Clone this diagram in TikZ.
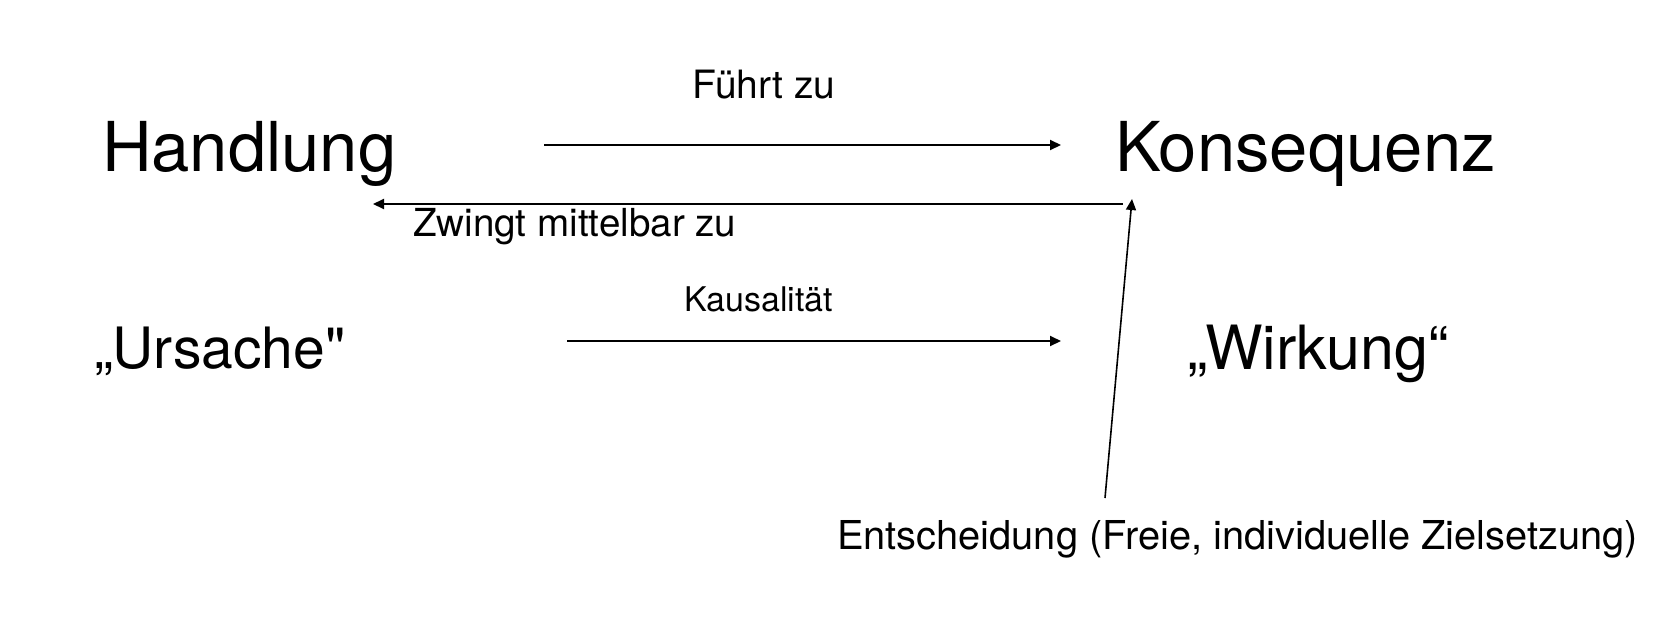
\documentclass[tikz,border=0pt]{standalone}
\usepackage{fontspec}
\setmainfont{TeX Gyre Heros}[Ligatures=TeXOff]
\usetikzlibrary{arrows.meta}
\tikzset{
  lbl/.style={anchor=base west, inner sep=0pt, outer sep=0pt, text=black},
  conn/.style={line width=1pt, -{Triangle[length=5.5pt,width=5pt]}},
}
\newcommand{\fs}[1]{\fontsize{#1}{#1}\selectfont}
\begin{document}
\begin{tikzpicture}[x=0.5pt,y=-0.5pt]
\useasboundingbox[fill=white] (0,0) rectangle (1672,632);
% main terms
\node[lbl] (hand) at (102,171) {\fs{34.4pt}Handlung};
\node[lbl] (kons) at (1115,171) {\fs{34.4pt}Konsequenz};
\node[lbl] (urs) at (94,368) {\fs{28.5pt}„Ursache"};
\node[lbl] (wirk) at (1187,369) {\fs{30.5pt}„Wirkung“};
% labels
\node[lbl] (fuehrt) at (692,98) {\fs{19.5pt}Führt zu};
\node[lbl] (zwingt) at (413,236) {\fs{19.3pt}Zwingt mittelbar zu};
\node[lbl] (kaus) at (684,311) {\fs{17pt}Kausalität};
\node[lbl] (ent) at (837,549) {\fs{19.9pt}Entscheidung (Freie, individuelle Zielsetzung)};
% connector ends
\coordinate (a1s) at (544,145);
\coordinate (a1e) at (1061,145);
\coordinate (a2s) at (1123,204);
\coordinate (a2e) at (373,204);
\coordinate (a3s) at (567,341);
\coordinate (a3e) at (1061,341);
\coordinate (a4s) at (1105,498);
\coordinate (a4e) at (1132,199);
\draw[conn] (a1s) -- (a1e);
\draw[conn] (a2s) -- (a2e);
\draw[conn] (a3s) -- (a3e);
\draw[conn, line width=0.8pt] (a4s) -- (a4e);
\end{tikzpicture}
\end{document}
